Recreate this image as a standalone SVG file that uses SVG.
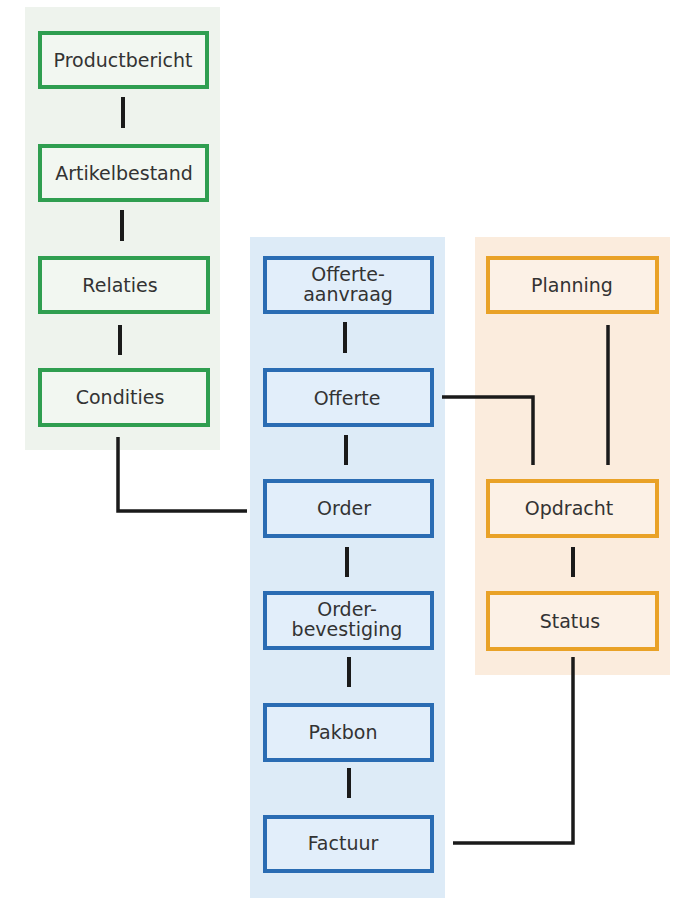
<svg xmlns="http://www.w3.org/2000/svg" width="698" height="900" viewBox="0 0 698 900">
<style>
.pg{fill:#eef3ed}
.pb{fill:#ddebf7}
.po{fill:#fbecdd}
.bg{fill:#f2f7f1;stroke:#2f9e50;stroke-width:4}
.bb{fill:#e2eefa;stroke:#2a6cb3;stroke-width:4}
.bo{fill:#fcf1e6;stroke:#e9a227;stroke-width:4}
text{font-family:"DejaVu Sans",Verdana,sans-serif;font-size:19px;fill:#333;text-anchor:middle}
.c{fill:none;stroke:#1a1a1a;stroke-width:4}
.l{fill:none;stroke:#1a1a1a;stroke-width:3.5}
</style>
<rect fill="#fff" width="698" height="900"/>
<g id="panels">
<rect class="pg" x="25" y="7" width="195" height="443"/>
<rect class="pb" x="250" y="237" width="195" height="661"/>
<rect class="po" x="475" y="237" width="195" height="438"/>
</g>
<g id="connectors">
<path class="c" d="M123 97V128"/>
<path class="c" d="M122 210V241"/>
<path class="c" d="M120 325V355"/>
<path class="l" d="M118 437V511H247"/>
<path class="c" d="M345 322V353"/>
<path class="c" d="M346 435V465"/>
<path class="c" d="M347 547V577"/>
<path class="c" d="M349 657V687"/>
<path class="c" d="M349 768V798"/>
<path class="l" d="M442 397H533V465"/>
<path class="l" d="M608 325V465"/>
<path class="c" d="M573 547V577"/>
<path class="l" d="M573 657V843H453"/>
</g>
<g id="productbericht"><rect class="bg" x="40" y="33" width="167" height="54"/><text x="123" y="67">Productbericht</text></g>
<g id="artikelbestand"><rect class="bg" x="40" y="146" width="167" height="54"/><text x="124" y="180">Artikelbestand</text></g>
<g id="relaties"><rect class="bg" x="40" y="258" width="168" height="54"/><text x="120" y="292">Relaties</text></g>
<g id="condities"><rect class="bg" x="40" y="370" width="168" height="55"/><text x="120" y="404">Condities</text></g>
<g id="offerteaanvraag"><rect class="bb" x="265" y="258" width="167" height="54"/><text x="348" y="281">Offerte-</text><text x="348" y="301">aanvraag</text></g>
<g id="offerte"><rect class="bb" x="265" y="370" width="167" height="55"/><text x="347" y="405">Offerte</text></g>
<g id="order"><rect class="bb" x="265" y="481" width="167" height="55"/><text x="344" y="515">Order</text></g>
<g id="orderbevestiging"><rect class="bb" x="265" y="593" width="167" height="55"/><text x="347" y="616">Order-</text><text x="347" y="636">bevestiging</text></g>
<g id="pakbon"><rect class="bb" x="265" y="705" width="167" height="55"/><text x="343" y="739">Pakbon</text></g>
<g id="factuur"><rect class="bb" x="265" y="817" width="167" height="54"/><text x="343" y="850">Factuur</text></g>
<g id="planning"><rect class="bo" x="488" y="258" width="169" height="54"/><text x="572" y="292">Planning</text></g>
<g id="opdracht"><rect class="bo" x="488" y="481" width="169" height="55"/><text x="569" y="515">Opdracht</text></g>
<g id="status"><rect class="bo" x="488" y="593" width="169" height="56"/><text x="570" y="628">Status</text></g>
</svg>
